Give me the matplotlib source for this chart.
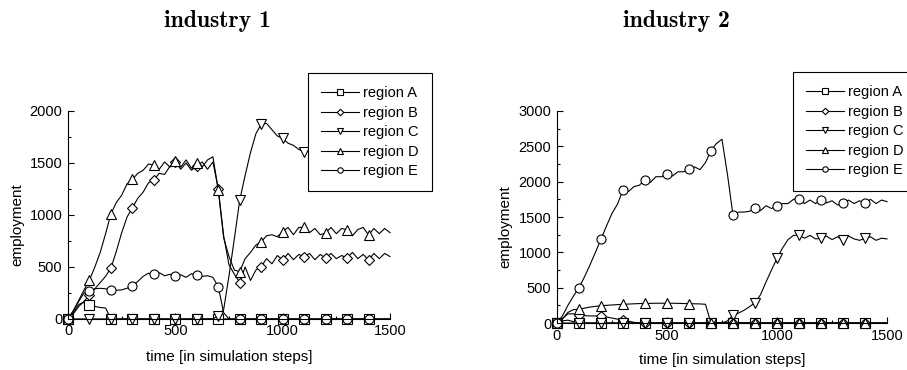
import numpy as np
import matplotlib
matplotlib.use('Agg')
import matplotlib.pyplot as plt

plt.rcParams['font.family'] = ['Liberation Sans', 'DejaVu Sans']

# time axis of the simulation, one value every 25 steps
steps = np.arange(0, 1501, 25)

regions = ['region A', 'region B', 'region C', 'region D', 'region E']
markers = ['s', 'D', 'v', '^', 'o']

# industry 1
ind1_a = [0, 60, 140, 160, 130, 120, 110, 105, 0, 0, 0, 0, 0, 0, 0, 0, 0, 0, 0, 0,
          0, 0, 0, 0, 0, 0, 0, 0, 0, 0, 0, 0, 0, 0, 0, 0, 0, 0, 0, 0,
          0, 0, 0, 0, 0, 0, 0, 0, 0, 0, 0, 0, 0, 0, 0, 0, 0, 0, 0, 0,
          0]
ind1_b = [0, 50, 120, 170, 230, 290, 350, 410, 490, 650, 830, 980, 1070, 1160, 1220, 1310, 1340, 1400, 1390, 1470,
          1510, 1440, 1500, 1430, 1470, 1510, 1440, 1510, 1250, 800, 520, 430, 350, 500, 370, 470, 503, 580, 530, 610,
          567, 630, 570, 620, 599, 630, 570, 620, 586, 630, 580, 610, 586, 640, 580, 620, 567, 630, 580, 630,
          600]
ind1_c = [0, 0, 0, 0, 0, 0, 0, 0, 0, 0, 0, 0, 0, 0, 0, 0, 0, 0, 0, 0,
          0, 0, 0, 0, 0, 0, 0, 0, 30, 90, 416, 773, 1144, 1380, 1600, 1780, 1875, 1880, 1820, 1760,
          1737, 1690, 1670, 1630, 1609, 1620, 1590, 1610, 1600, 1590, 1610, 1600, 1580, 1600, 1610, 1590, 1600, 1590, 1610, 1600,
          1600]
ind1_d = [0, 80, 180, 280, 375, 500, 640, 820, 1010, 1120, 1190, 1300, 1343, 1400, 1430, 1490, 1480, 1440, 1510, 1460,
          1520, 1460, 1530, 1450, 1500, 1460, 1530, 1560, 1240, 780, 600, 470, 455, 580, 640, 710, 743, 800, 810, 790,
          840, 880, 810, 880, 882, 830, 870, 810, 827, 880, 820, 870, 856, 800, 860, 880, 808, 870, 820, 870,
          830]
ind1_e = [0, 80, 170, 250, 265, 290, 295, 290, 280, 275, 280, 295, 320, 360, 410, 440, 430, 445, 415, 430,
          410, 425, 400, 435, 420, 410, 415, 400, 310, 60, 0, 0, 0, 0, 0, 0, 0, 0, 0, 0,
          0, 0, 0, 0, 0, 0, 0, 0, 0, 0, 0, 0, 0, 0, 0, 0, 0, 0, 0, 0,
          0]

# industry 2
ind2_a = [0, 30, 40, 20, 0, 0, 0, 0, 0, 0, 0, 0, 0, 0, 0, 0, 0, 0, 0, 0,
          0, 0, 0, 0, 0, 0, 0, 0, 0, 0, 0, 0, 0, 0, 0, 0, 0, 0, 0, 0,
          0, 0, 0, 0, 0, 0, 0, 0, 0, 0, 0, 0, 0, 0, 0, 0, 0, 0, 0, 0,
          0]
ind2_b = [0, 60, 130, 130, 113, 105, 100, 100, 99, 85, 70, 55, 42, 25, 10, 0, 0, 0, 0, 0,
          0, 0, 0, 0, 0, 0, 0, 0, 0, 0, 0, 0, 0, 0, 0, 0, 0, 0, 0, 0,
          0, 0, 0, 0, 0, 0, 0, 0, 0, 0, 0, 0, 0, 0, 0, 0, 0, 0, 0, 0,
          0]
ind2_c = [0, 0, 0, 0, 0, 0, 0, 0, 0, 0, 0, 0, 0, 0, 0, 0, 0, 0, 0, 0,
          0, 0, 0, 0, 0, 0, 0, 0, 0, 0, 0, 30, 113, 140, 180, 230, 287, 400, 580, 750,
          915, 1060, 1180, 1240, 1245, 1200, 1240, 1190, 1198, 1230, 1180, 1220, 1174, 1230, 1190, 1170, 1198, 1220, 1170, 1200,
          1190]
ind2_d = [0, 60, 150, 190, 194, 210, 225, 235, 245, 250, 255, 260, 264, 268, 272, 275, 278, 278, 280, 280,
          280, 280, 278, 276, 275, 272, 270, 265, 0, 0, 0, 0, 0, 0, 0, 0, 0, 0, 0, 0,
          0, 0, 0, 0, 0, 0, 0, 0, 0, 0, 0, 0, 0, 0, 0, 0, 0, 0, 0, 0,
          0]
ind2_e = [0, 100, 250, 380, 500, 650, 820, 1000, 1184, 1370, 1550, 1680, 1880, 1860, 1930, 1950, 2030, 1990, 2070, 2070,
          2108, 2080, 2140, 2140, 2175, 2210, 2170, 2270, 2440, 2540, 2600, 2100, 1528, 1570, 1570, 1580, 1623, 1590, 1660, 1620,
          1656, 1690, 1690, 1750, 1755, 1690, 1740, 1690, 1741, 1700, 1730, 1670, 1694, 1740, 1690, 1730, 1694, 1750, 1690, 1740,
          1717]

fig = plt.figure(figsize=(9.07, 3.70), dpi=100)
ax1 = fig.add_axes([0.075, 0.138, 0.355, 0.562])
ax2 = fig.add_axes([0.614, 0.127, 0.364, 0.573])


def draw(ax, series, ymax, legend_xy):
    lines = []
    for y, m, lab in zip(series, markers, regions):
        ms = 5.5 if m == 'D' else 6.5
        ln, = ax.plot(steps, y, color='black', lw=0.8, marker=m, ms=ms,
                      mfc='white', mec='black', mew=0.8,
                      markevery=slice(0, 60, 4), clip_on=False, label=lab)
        lines.append(ln)
    ax.set_xlim(0, 1500)
    ax.set_ylim(0, ymax)
    ax.set_xticks([0, 500, 1000, 1500])
    ax.set_yticks(np.arange(0, ymax + 1, 500))
    ax.set_xticks(np.arange(250, 1500, 500), minor=True)
    ax.set_yticks(np.arange(250, ymax, 500), minor=True)
    ax.spines['top'].set_visible(False)
    ax.spines['right'].set_visible(False)
    ax.tick_params(which='both', direction='in', labelsize=10.5, width=0.8)
    ax.tick_params(which='major', length=4, pad=4)
    ax.tick_params(which='minor', length=2.5)
    leg = fig.legend(handles=lines, loc='upper left', bbox_to_anchor=legend_xy,
                     fontsize=10.5, frameon=True, fancybox=False, edgecolor='black',
                     framealpha=1, borderaxespad=0, handlelength=2.6,
                     handletextpad=0.3, labelspacing=0.38, markerscale=0.6,
                     borderpad=0.9)
    leg.get_frame().set_linewidth(0.8)


draw(ax1, [ind1_a, ind1_b, ind1_c, ind1_d, ind1_e], 2000, (0.3396, 0.8027))
draw(ax2, [ind2_a, ind2_b, ind2_c, ind2_d, ind2_e], 3000, (0.874, 0.805))

fig.text(0.240, 0.927, 'industry 1', family='cmb10', fontsize=17, ha='center', va='baseline')
fig.text(0.746, 0.927, 'industry 2', family='cmb10', fontsize=17, ha='center', va='baseline')

fig.text(0.019, 0.392, 'employment', rotation=90, fontsize=11, ha='center', va='center')
fig.text(0.557, 0.388, 'employment', rotation=90, fontsize=11, ha='center', va='center')
fig.text(0.2525, 0.035, 'time [in simulation steps]', fontsize=11, ha='center', va='center')
fig.text(0.796, 0.027, 'time [in simulation steps]', fontsize=11, ha='center', va='center')

fig.savefig('out.png', dpi=100)
